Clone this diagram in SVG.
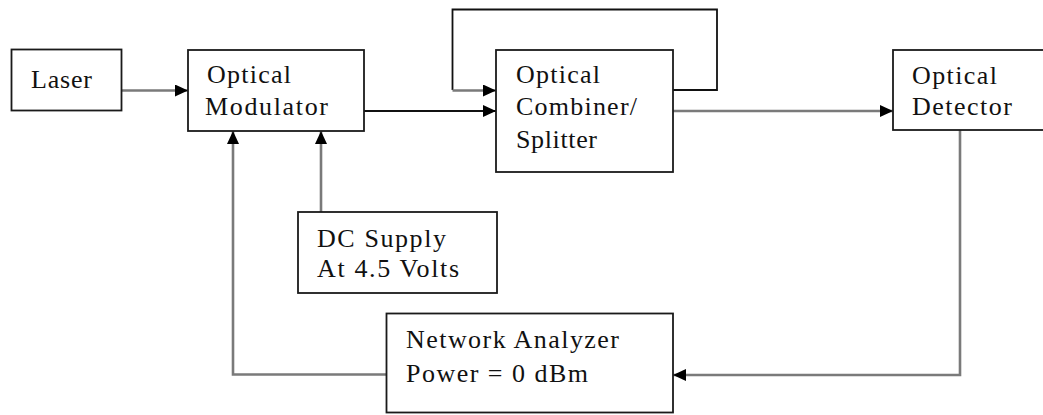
<svg xmlns="http://www.w3.org/2000/svg" width="1043" height="415" viewBox="0 0 1043 415">
<style>
.box{fill:#fff;stroke:#1a1a1a;stroke-width:1.8}
.t{font-family:'Liberation Serif','Times New Roman',serif;font-size:26px;fill:#111}
.g{fill:none;stroke:#7a7a7a;stroke-width:2.6}
.k{fill:none;stroke:#111;stroke-width:1.8}
</style>
<defs>
<marker id="ah" markerUnits="userSpaceOnUse" markerWidth="13" markerHeight="12" refX="13" refY="6" orient="auto">
<path d="M0,0 L13,6 L0,12 z" fill="#000"/>
</marker>
</defs>
<rect width="1043" height="415" fill="#fff"/>
<g id="connectors">
<path class="g" d="M122,90.5 H188" marker-end="url(#ah)"/>
<path class="k" d="M364,111 H496" marker-end="url(#ah)"/>
<path class="k" d="M673,90 H717 V9.5 H452.5 V90"/>
<path class="g" d="M452.5,90.5 H496" marker-end="url(#ah)"/>
<path class="g" d="M673,111 H893" marker-end="url(#ah)"/>
<path class="g" d="M321,212 V131" marker-end="url(#ah)"/>
<path class="g" d="M386,374.5 H233 V131" marker-end="url(#ah)"/>
<path class="g" d="M960,130 V375 H673" marker-end="url(#ah)"/>
</g>
<g id="laser">
<rect class="box" x="11.5" y="49.5" width="110" height="61"/>
<text class="t" x="31" y="88" textLength="61">Laser</text>
</g>
<g id="modulator">
<rect class="box" x="188" y="50" width="176" height="81"/>
<text class="t" x="207" y="83" textLength="84">Optical</text>
<text class="t" x="205" y="115" textLength="123">Modulator</text>
</g>
<g id="combiner">
<rect class="box" x="496" y="50" width="177" height="122"/>
<text class="t" x="516" y="83" textLength="84">Optical</text>
<text class="t" x="516" y="115" textLength="121">Combiner/</text>
<text class="t" x="516" y="148" textLength="81">Splitter</text>
</g>
<g id="detector">
<rect class="box" x="893" y="50" width="155" height="80"/>
<text class="t" x="912" y="84" textLength="85">Optical</text>
<text class="t" x="912" y="115" textLength="100">Detector</text>
</g>
<g id="dcsupply">
<rect class="box" x="298" y="212" width="199" height="81"/>
<text class="t" x="317" y="247" textLength="129">DC Supply</text>
<text class="t" x="317" y="277" textLength="142">At 4.5 Volts</text>
</g>
<g id="analyzer">
<rect class="box" x="386.5" y="313.5" width="286.5" height="99"/>
<text class="t" x="406" y="348" textLength="213">Network Analyzer</text>
<text class="t" x="406" y="382" textLength="182">Power = 0 dBm</text>
</g>
</svg>
